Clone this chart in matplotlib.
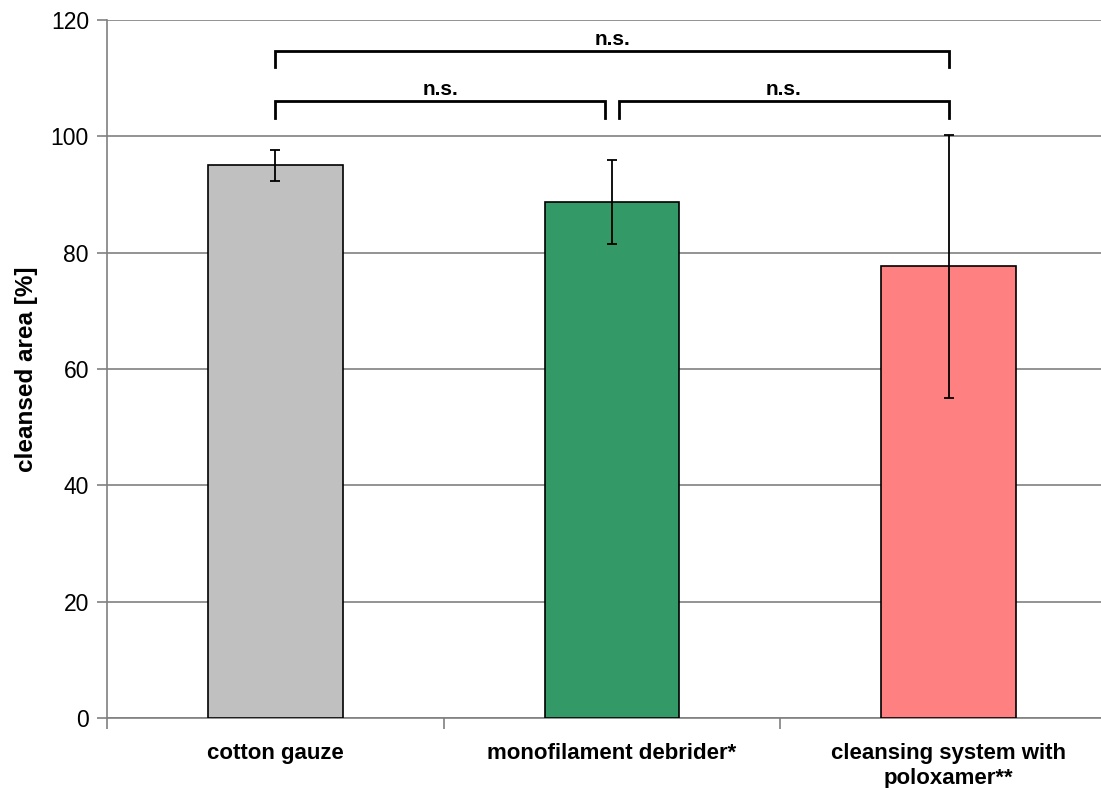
import matplotlib.pyplot as plt
import numpy as np

plt.rcParams['font.family'] = ['Liberation Sans', 'DejaVu Sans']

categories = ["cotton gauze", "monofilament debrider*", "cleansing system with\npoloxamer**"]
means = [95.0, 88.7, 77.7]
errors = [2.6, 7.2, 22.6]
colors = ["#C0C0C0", "#339966", "#FF8080"]

# significance brackets: (from bar, to bar, height, label)
brackets = [(0, 2, 114.7, "n.s."), (0, 0.98, 106.0, "n.s."), (1.02, 2, 106.0, "n.s.")]

fig = plt.figure(figsize=(11.01, 7.88), dpi=100)
ax = fig.add_axes([107 / 1101, 70 / 788, 1010 / 1101, 698 / 788])

x = np.arange(len(categories))
ax.bar(x, means, width=0.4, color=colors, edgecolor="black", linewidth=1.2, zorder=3)
ax.errorbar(x, means, yerr=errors, fmt="none", ecolor="black", elinewidth=1.3,
            capsize=3.5, capthick=1.3, zorder=4)

for x0, x1, h, label in brackets:
    ax.plot([x0, x0, x1, x1], [h - 2.8, h, h, h - 2.8], color="black", lw=2,
            solid_joinstyle="miter", zorder=4)
    ax.text((x0 + x1) / 2, h + 0.4, label, ha="center", va="bottom",
            fontsize=15, fontweight="bold")

ax.set_xlim(-0.5, 2.5)
ax.set_ylim(0, 120)
ax.set_yticks(range(0, 121, 20))
ax.yaxis.grid(True, color="#808080", lw=1.2, zorder=0)
ax.set_axisbelow(True)

ax.set_xticks(x)
ax.set_xticklabels(categories, fontsize=16, fontweight="bold", linespacing=1.25)
ax.set_xticks([-0.5, 0.5, 1.5, 2.5], minor=True)
ax.tick_params(axis="x", which="major", length=0, pad=18)
ax.tick_params(axis="x", which="minor", length=8, color="#808080", width=1.2)
ax.tick_params(axis="y", length=7, color="#808080", width=1.2, labelsize=16.5, pad=6)

for s in ["top", "right"]:
    ax.spines[s].set_visible(False)
for s in ["left", "bottom"]:
    ax.spines[s].set_color("#808080")
    ax.spines[s].set_linewidth(1.2)

ax.set_ylabel("cleansed area [%]", fontsize=17.5, fontweight="bold", labelpad=9)

fig.savefig("out.png", dpi=100)
